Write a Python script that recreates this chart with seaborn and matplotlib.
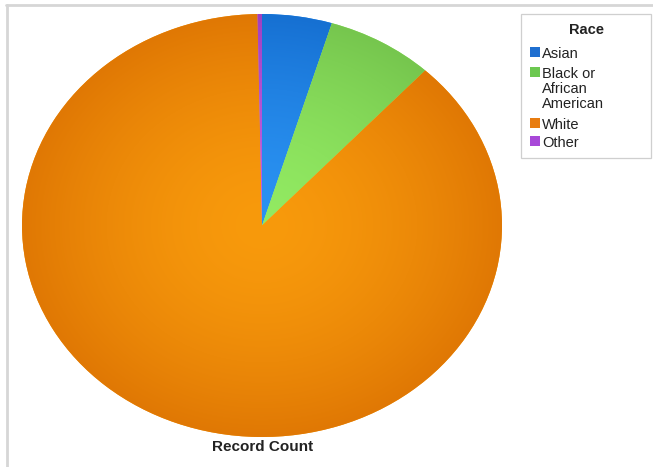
import numpy as np
import matplotlib
matplotlib.use("Agg")
import matplotlib.pyplot as plt
import matplotlib.colors as mcolors
from matplotlib.lines import Line2D
from matplotlib.patches import Rectangle
import seaborn as sns

# Data (percent share of record count)
categories = ["Asian", "Black or\nAfrican\nAmerican", "White", "Other"]
values = [4.7, 7.2, 87.8, 0.3]
legend_title = "Race"
axis_label = "Record Count"
center_colors = ["#2a92f2", "#92ea62", "#f89a0c", "#c060e0"]
edge_colors = ["#1670d2", "#76c64e", "#e07804", "#a040c0"]
legend_colors = ["#1f6fd0", "#6cc850", "#e87c10", "#a848d8"]

sns.set_theme(style="white")
plt.rcParams['font.family'] = ['Liberation Sans', 'DejaVu Sans']

W, H = 653, 467
fig = plt.figure(figsize=(W / 100, H / 100), dpi=100)
fig.patch.set_facecolor("white")


def fx(x):
    return x / W


def fy(y):
    return 1 - y / H


# frame lines (top and left)
fig.add_artist(Line2D([fx(6), 1], [fy(5), fy(5)], color="#d6d6d6", lw=2))
fig.add_artist(Line2D([fx(7), fx(7)], [fy(5), 0], color="#d6d6d6", lw=2))

# pie bounding box in pixels
left, right, top, bottom = 22, 502, 14, 437
ax = fig.add_axes([fx(left), fy(bottom), (right - left) / W, (bottom - top) / H])
wedges, _ = ax.pie(values, colors=center_colors, startangle=90, counterclock=False,
                   radius=1, wedgeprops=dict(linewidth=0))
ax.set_aspect("auto")
ax.set_xlim(-1, 1)
ax.set_ylim(-1, 1)
ax.axis("off")

# radial gradient shading per wedge
n = 400
xx, yy = np.meshgrid(np.linspace(-1, 1, n), np.linspace(-1, 1, n))
rr = np.clip(np.sqrt(xx ** 2 + yy ** 2), 0, 1)
t = rr ** 1.6
for w, c0, c1 in zip(wedges, center_colors, edge_colors):
    a = np.array(mcolors.to_rgb(c0))
    b = np.array(mcolors.to_rgb(c1))
    img = a[None, None, :] * (1 - t[..., None]) + b[None, None, :] * t[..., None]
    im = ax.imshow(img, extent=[-1, 1, -1, 1], origin="lower", aspect="auto",
                   interpolation="bilinear", zorder=2)
    im.set_clip_path(w)

fig.text(fx(263), fy(447), axis_label, ha="center", va="center", fontsize=11,
         fontweight="bold", color="#222222")

# legend (drawn manually so the swatch aligns with the first text line)
fig.add_artist(Rectangle((fx(521), fy(158)), fx(651) - fx(521), fy(14) - fy(158),
                         transform=fig.transFigure, facecolor="white",
                         edgecolor="#cfcfcf", lw=0.9))
fig.text(fx(587), fy(30), legend_title, ha="center", va="center", fontsize=10.5,
         fontweight="bold", color="#222222")
item_y = [52, 72, 123, 141]
for lab, col, y in zip(categories, legend_colors, item_y):
    fig.add_artist(Rectangle((fx(530), fy(y + 5)), 10 / W, 10 / H,
                             transform=fig.transFigure, facecolor=col, edgecolor="none"))
    fig.text(fx(542), fy(y - 5), lab, ha="left", va="top", fontsize=10.5,
             color="#222222", linespacing=1.1)

fig.savefig("out.png", dpi=100, facecolor="white")
